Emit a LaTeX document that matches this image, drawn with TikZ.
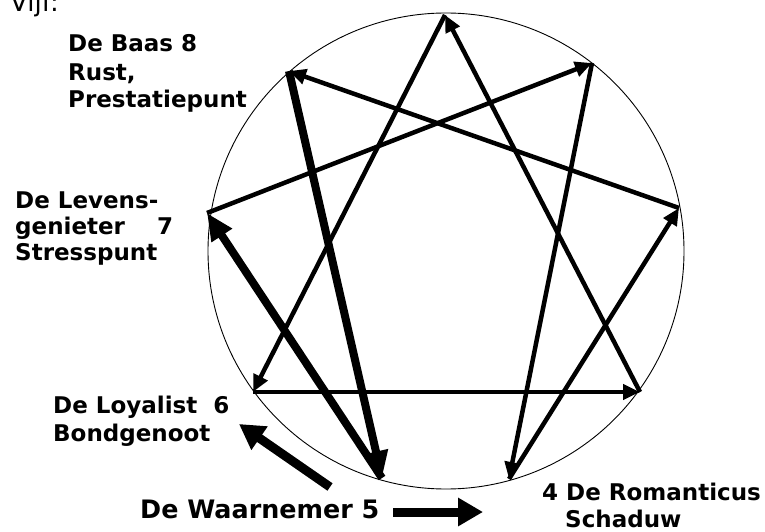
\documentclass[tikz,border=0pt]{standalone}
\usepackage{fontspec}
\setmainfont{DejaVu Sans}
\usetikzlibrary{arrows.meta}

\begin{document}
\begin{tikzpicture}[x=1pt, y=-1pt,
  ring/.style={draw, line width=0.9pt},
  arr/.style={-{Triangle[length=17pt, width=15pt]}, line width=4.5pt},
  thickarr/.style={-{Triangle[length=27pt, width=23pt]}, line width=8pt},
  bigarr/.style={-{Triangle[length=25pt, width=27pt]}, line width=9pt},
  lbl/.style={font=\fontsize{23}{28}\selectfont\bfseries, inner sep=0pt,
              align=left, anchor=base west},
]
\useasboundingbox (0,0) rectangle (765,532);

% --- Circle and points ---
\draw[ring] (446,251) circle[radius=238];

\coordinate (p9) at (445,15);
\coordinate (p1) at (592,63);
\coordinate (p2) at (679,208);
\coordinate (p3) at (640,392);
\coordinate (p4) at (509,479);
\coordinate (p5) at (382,478);
\coordinate (p6) at (253,392);
\coordinate (p7) at (207,213);
\coordinate (p8) at (289,71);

% --- Inner lines ---
\foreach \a/\b in {9/6, 6/3, 3/9, 1/4, 4/2, 2/8, 7/1}
  \draw[arr] (p\a) -- (p\b);
\draw[thickarr] (p8) -- (p5);
\draw[thickarr] (p5) -- (p7);

% --- Labels (base = last line) ---
\node[lbl, font=\fontsize{26}{30}\selectfont] (vijf) at (10,12) {Vijf:};
\node[lbl] (baas) at (68,108) {De Baas 8\\Rust,\\Prestatiepunt};
\node[lbl, font=\fontsize{23}{26}\selectfont\bfseries] (levens) at (15,260)
  {De Levens-\\genieter\hspace{32pt}7\\Stresspunt};
\node[lbl] (loyal) at (53,441) {De Loyalist\hspace{16pt}6\\Bondgenoot};
\node[lbl, font=\fontsize{25.4}{28}\selectfont\bfseries] (waar) at (140,518)
  {De Waarnemer 5};
\node[lbl, font=\fontsize{23}{27}\selectfont\bfseries] (roman) at (542,527)
  {4 De Romanticus\\\hspace*{23pt}Schaduw};

% --- Outer arrows ---
\coordinate (a1) at (330,487);
\coordinate (a2) at (239,424);
\coordinate (b1) at (393,512);
\coordinate (b2) at (483,512);
\draw[bigarr] (a1) -- (a2);
\draw[bigarr] (b1) -- (b2);

\end{tikzpicture}
\end{document}
